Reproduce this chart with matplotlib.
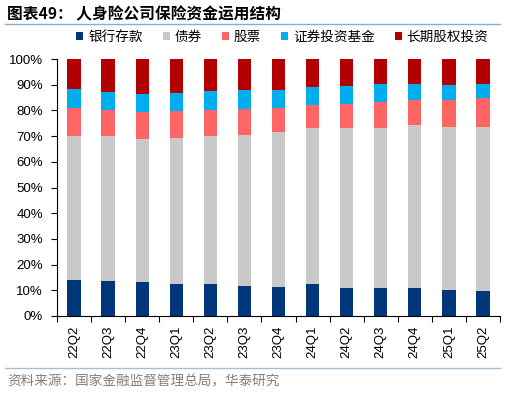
import matplotlib
matplotlib.use("Agg")
import matplotlib.pyplot as plt
from matplotlib.lines import Line2D
import numpy as np

plt.rcParams['font.family'] = ['Liberation Sans', 'Noto Sans CJK SC', 'DejaVu Sans']

quarters = ["22Q2", "22Q3", "22Q4", "23Q1", "23Q2", "23Q3", "23Q4",
            "24Q1", "24Q2", "24Q3", "24Q4", "25Q1", "25Q2"]
series_names = ["银行存款", "债券", "股票", "证券投资基金", "长期股权投资"]

bank = [14.2, 13.7, 13.2, 12.4, 12.4, 11.7, 11.3, 12.4, 10.9, 10.8, 10.8, 10.1, 9.7]
bonds = [55.7, 56.5, 55.7, 57.0, 57.5, 58.8, 60.2, 60.9, 62.4, 62.5, 63.7, 63.6, 64.0]
stocks = [11.2, 10.0, 10.5, 10.5, 10.4, 10.1, 9.6, 8.8, 9.1, 9.9, 9.6, 10.4, 11.0]
funds = [7.2, 7.0, 7.1, 7.0, 7.3, 7.2, 7.0, 7.1, 7.0, 7.0, 6.3, 5.8, 5.7]
equity = [11.7, 12.8, 13.5, 13.1, 12.4, 12.2, 11.9, 10.8, 10.6, 9.8, 9.6, 10.1, 9.6]

colors = ["#00367A", "#C9C9C9", "#FF6565", "#00AEEF", "#B30000"]

fig = plt.figure(figsize=(5.06, 3.93), dpi=100)
ax = fig.add_axes([57 / 506, 77 / 393, 443 / 506, 257 / 393])

x = np.arange(len(quarters))
bottom = np.zeros(len(quarters))
for vals, name, col in zip([bank, bonds, stocks, funds, equity], series_names, colors):
    ax.bar(x, vals, width=0.39, bottom=bottom, color=col, label=name, linewidth=0)
    bottom += np.array(vals)

ax.set_xlim(-0.5, len(quarters) - 0.5)
ax.set_ylim(0, 100)
ax.set_yticks(np.arange(0, 101, 10))
ax.set_yticklabels([f"{v}%" for v in range(0, 101, 10)], fontsize=9.5)
ax.set_xticks(x)
ax.set_xticklabels(quarters, rotation=90, fontsize=9.5)
ax.set_xticks(np.arange(-0.5, len(quarters), 1), minor=True)
ax.tick_params(axis="x", which="major", length=0, pad=7)
ax.tick_params(axis="x", which="minor", length=4, width=0.8, direction="out")
ax.tick_params(axis="y", length=4, width=0.8, pad=6)
for s in ["top", "right"]:
    ax.spines[s].set_visible(False)
for s in ["left", "bottom"]:
    ax.spines[s].set_linewidth(0.8)

ax.legend(loc="center", bbox_to_anchor=(0.509, 1.0856), ncol=5, frameon=False,
          prop={"family": "Noto Sans CJK SC", "size": 9.8},
          handlelength=0.5, handleheight=0.5, handletextpad=0.35,
          columnspacing=1.5, borderaxespad=0, borderpad=0)

fig.text(7 / 506, 1 - 14 / 393, "图表49： 人身险公司保险资金运用结构", fontsize=11.3,
         fontweight="bold", family=["Noto Sans CJK SC"], va="center", ha="left")
fig.add_artist(Line2D([5 / 506, 500 / 506], [1 - 24 / 393, 1 - 24 / 393],
                      color="#8EAACC", linewidth=1))
fig.add_artist(Line2D([5 / 506, 500 / 506], [1 - 368 / 393, 1 - 368 / 393],
                      color="#A6BDD7", linewidth=1))
fig.text(7 / 506, 1 - 381 / 393, "资料来源：国家金融监督管理总局，华泰研究", fontsize=9.8,
         color="#808080", family=["Noto Sans CJK SC"], va="center", ha="left")

fig.savefig("out.png", dpi=100)
